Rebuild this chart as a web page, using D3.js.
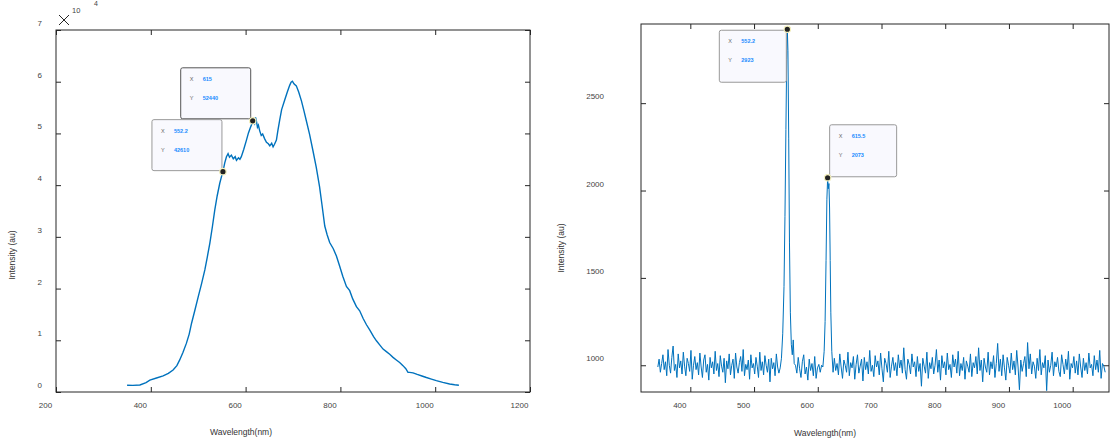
<!DOCTYPE html>
<html>
<head>
<meta charset="utf-8">
<script src="https://cdn.jsdelivr.net/npm/d3@7"></script>
<style>
  body { margin: 0; background: #fff; }
  svg { display: block; font-family: "Liberation Sans", Arial, sans-serif; }
  .tick text { fill: #444; font-size: 8px; }
  .tick line { stroke: #262626; }
</style>
</head>
<body>
<div id="container"></div>
<script>
/* CONSTANTS AND GLOBALS */
const width = 1112, height = 446;
const lineColor = "#0072BD";

/* DATA */
// left panel: broad photoluminescence band
const plWavelength = [350, 362, 377, 390, 398, 412, 426, 437, 447, 455, 461, 468, 475, 481, 486, 493, 500, 507, 514, 519,
  524.5, 530, 535, 540, 545.5, 549, 552.2, 556, 559.6, 563, 566, 570, 574, 578, 580.7, 585, 588, 591, 596, 601.8,
  606, 610, 613, 615.8, 619, 621, 623, 625, 627, 629.8, 633, 636, 640, 644, 648, 651, 655, 658, 661, 665,
  668, 672, 676, 682.5, 688, 693, 696, 698.8, 702, 707, 712, 717.8, 723, 728, 735, 742, 749, 756, 761, 767,
  772, 777.4, 785, 791.6, 798.5, 805, 812.7, 819.6, 826, 833.8, 840.7, 848, 855, 861.8, 870, 876, 882.9, 890, 897, 904,
  911, 918, 925, 932, 938, 942.6, 946, 953.2, 962, 972, 981.4, 992, 1002.4, 1016, 1030.5, 1041, 1050];
const plIntensity = [1300, 1280, 1350, 1800, 2300, 2700, 3100, 3600, 4250, 5100, 6200, 7700, 9400, 11200, 13300, 15800, 18400, 20900, 23600, 26000,
  28750, 32000, 35200, 37900, 40360, 41600, 42610, 44300, 45500, 46100, 45400, 45800, 45100, 45500, 44800, 45300, 45000, 45500, 46900, 48700,
  50100, 51100, 51800, 52440, 51900, 53100, 52300, 51200, 51600, 50500, 49600, 49900, 49000, 48300, 48000, 47600, 48100, 47400, 47900, 48700,
  50500, 52600, 54600, 56460, 58000, 59300, 59900, 60100, 59600, 59200, 58000, 56300, 54400, 52500, 49800, 46700, 43500, 39700, 36300, 32100,
  30400, 28900, 27700, 26300, 24300, 22400, 20400, 19600, 18000, 16500, 15700, 14200, 13000, 12000, 10700, 9900, 9100, 8300, 7800, 7300,
  6700, 6200, 5700, 5100, 4500, 3800, 3800, 3700, 3400, 3100, 2800, 2500, 2200, 1850, 1550, 1400, 1300];
const plTips = [{ x: 615, y: 52440 }, { x: 552.2, y: 42610 }];

// right panel: noisy baseline with two sharp lines
const noiseA = [990, 1035, 960, 1010, 1060, 975, 1020, 940, 1090, 1000, 955, 1045, 1110, 970, 1005, 930, 1065, 985, 1025, 950,
  1075, 995, 940, 1040, 1010, 965, 1085, 920, 1000, 1050, 975, 1015, 945, 1070, 990, 930, 1030, 1060, 960, 1005,
  915, 1045, 985, 1020, 950, 1080, 970, 1010, 935, 1055, 995, 960, 1040, 900, 1025, 980, 1065, 945, 1000, 1035,
  925, 1070, 990, 955, 1015, 1050, 965, 1090, 940, 1005, 975, 1030, 920, 1060, 985, 1010, 950, 1045, 995, 930,
  1075, 970, 1020, 945, 1055, 1000, 960, 1035, 905, 1040, 980, 1015, 940, 1065, 990, 955];
const noiseASpan = [349, 539];
const peak1Wavelength = [541, 543, 545, 547, 548.5, 550, 551.2, 552.2, 553.2, 554.4, 555.6, 557, 558.5, 560, 561.5, 563];
const peak1Counts = [985, 1040, 1180, 1450, 1850, 2350, 2750, 2923, 2800, 2300, 1700, 1300, 1120, 1060, 1145, 1010];
const noiseB = [1000, 955, 1045, 980, 930, 1020, 1060, 950, 990, 915, 1035, 970, 1010, 940, 1050, 925, 985, 1005, 960, 1000];
const noiseBSpan = [565, 606];
const peak2Wavelength = [608, 610, 611.5, 613, 614.3, 615.5, 616.5, 617.5, 618.5, 619.5, 620.5, 622, 624];
const peak2Counts = [990, 1080, 1250, 1600, 1950, 2073, 2010, 2040, 1900, 1600, 1300, 1080, 960];
const noiseC = [1040, 970, 1010, 945, 1065, 990, 925, 1030, 1000, 960, 1075, 940, 1015, 985, 1050, 920, 1005, 1060, 955, 995,
  1035, 910, 1045, 975, 1020, 950, 1085, 965, 1000, 935, 1055, 990, 1025, 945, 1070, 980, 905, 1040, 1010, 960,
  1080, 930, 995, 1045, 970, 1015, 940, 1060, 985, 1030, 955, 1100, 975, 920, 1035, 1005, 950, 1065, 990, 1020,
  935, 1050, 965, 1010, 880, 1040, 995, 955, 1075, 925, 1015, 980, 1045, 950, 1000, 1090, 960, 1030, 915, 1055,
  985, 1020, 945, 1070, 975, 1005, 930, 1060, 990, 1035, 955, 1080, 940, 1010, 970, 1045, 920, 1025, 995, 960,
  1065, 935, 1015, 985, 1050, 950, 1100, 970, 1030, 905, 1040, 990, 960, 1075, 945, 1020, 980, 1055, 930, 1010,
  1125, 965, 1035, 940, 1060, 985, 915, 1045, 1000, 955, 1070, 975, 1025, 945, 1085, 990, 860, 1030, 965, 1010,
  1050, 935, 1130, 980, 1065, 950, 1020, 995, 925, 1040, 970, 1090, 945, 1015, 985, 1055, 855, 1030, 960, 1000,
  1075, 940, 1020, 990, 1045, 965, 935, 1060, 1005, 950, 1035, 975, 1080, 920, 1010, 985, 1050, 955, 1025, 945,
  1065, 990, 930, 1040, 970, 1015, 950, 1070, 985, 1005, 940, 1055, 975, 1030, 960, 1085, 925, 1010, 995, 960];
const noiseCSpan = [626, 1051];
const ramanTips = [{ x: 552.2, y: 2923 }, { x: 615.5, y: 2073 }];

// spread a sampled segment evenly over its wavelength span
function segment(values, span) {
  const step = (span[1] - span[0]) / (values.length - 1);
  return values.map((v, i) => ({ x: span[0] + i * step, y: v }));
}
const plData = plWavelength.map((w, i) => ({ x: w, y: plIntensity[i] }));
const ramanData = [].concat(
  segment(noiseA, noiseASpan),
  peak1Wavelength.map((w, i) => ({ x: w, y: peak1Counts[i] })),
  segment(noiseB, noiseBSpan),
  peak2Wavelength.map((w, i) => ({ x: w, y: peak2Counts[i] })),
  segment(noiseC, noiseCSpan)
);

/* SVG */
const svg = d3.select("#container").append("svg")
  .attr("width", width)
  .attr("height", height);

/* SCALES */
const leftX = d3.scaleLinear().domain([200, 1200]).range([56, 530]);
const leftY = d3.scaleLinear().domain([0, 70000]).range([392, 30]);
const rightX = d3.scaleLinear().domain([322.6, 1057]).range([641, 1109]);
const rightY = d3.scaleLinear().domain([847, 2953]).range([392, 24]);

// draws box, inward ticks on all four sides and shifted tick labels
function drawAxes(x, y, xTicks, yTicks, yFormat, yPad) {
  const [x0, x1] = x.range(), [y0, y1] = y.range();

  const gx = svg.append("g").attr("transform", `translate(0,${y0})`)
    .call(d3.axisBottom(x).tickValues(xTicks).tickSizeInner(-5).tickSizeOuter(0).tickPadding(10).tickFormat(d3.format("d")));
  gx.select(".domain").remove();
  gx.selectAll("text").attr("x", -11);

  const gy = svg.append("g").attr("transform", `translate(${x0},0)`)
    .call(d3.axisLeft(y).tickValues(yTicks).tickSizeInner(-5).tickSizeOuter(0).tickPadding(yPad).tickFormat(yFormat));
  gy.select(".domain").remove();
  gy.selectAll("text").attr("y", -7);

  const gt = svg.append("g").attr("transform", `translate(0,${y1})`)
    .call(d3.axisTop(x).tickValues(xTicks).tickSizeInner(-5).tickSizeOuter(0).tickFormat(""));
  gt.select(".domain").remove();

  const gr = svg.append("g").attr("transform", `translate(${x1},0)`)
    .call(d3.axisRight(y).tickValues(yTicks).tickSizeInner(-5).tickSizeOuter(0).tickFormat(""));
  gr.select(".domain").remove();

  svg.append("rect")
    .attr("x", x0).attr("y", y1)
    .attr("width", x1 - x0).attr("height", y0 - y1)
    .attr("fill", "none").attr("stroke", "#262626").attr("stroke-width", 1);
}

drawAxes(leftX, leftY, [200, 400, 600, 800, 1000, 1200], d3.range(0, 70001, 10000), d => d / 10000, 14);
drawAxes(rightX, rightY, [400, 500, 600, 700, 800, 900, 1000], [1000, 1500, 2000, 2500], d3.format("d"), 37);

// x10^4 exponent marker
const expo = svg.append("g").attr("stroke", "#262626").attr("stroke-width", 1);
expo.append("line").attr("x1", 59).attr("y1", 15).attr("x2", 69).attr("y2", 25);
expo.append("line").attr("x1", 69).attr("y1", 15).attr("x2", 59).attr("y2", 25);
svg.append("text").attr("x", 72).attr("y", 13).attr("font-size", 7.5).attr("fill", "#444").text("10");
svg.append("text").attr("x", 94).attr("y", 6).attr("font-size", 7).attr("fill", "#444").text("4");

// axis titles
const titles = [
  { t: "Wavelength(nm)", x: 241, y: 435, r: 0 },
  { t: "Wavelength(nm)", x: 825, y: 436, r: 0 },
  { t: "Intensity (au)", x: 15, y: 255, r: -90 },
  { t: "Intensity (au)", x: 564, y: 248, r: -90 }
];
svg.selectAll("text.title").data(titles).join("text")
  .attr("class", "title")
  .attr("transform", d => `translate(${d.x},${d.y}) rotate(${d.r})`)
  .attr("text-anchor", "middle")
  .attr("font-size", 8.5)
  .attr("fill", "#333")
  .text(d => d.t);

/* LINES */
svg.append("path").datum(plData)
  .attr("d", d3.line().x(d => leftX(d.x)).y(d => leftY(d.y)))
  .attr("fill", "none").attr("stroke", lineColor).attr("stroke-width", 1.4);

svg.append("path").datum(ramanData)
  .attr("d", d3.line().x(d => rightX(d.x)).y(d => rightY(d.y)))
  .attr("fill", "none").attr("stroke", lineColor).attr("stroke-width", 1);

/* DATATIPS */
// placement: box corner relative to marker
function datatip(d, xs, ys, place, dark) {
  const mx = xs(d.x), my = ys(d.y);
  const w = place.w, h = place.h;
  const bx = place.side === "left" ? mx - w - place.dx : mx + place.dx;
  const by = place.vert === "up" ? my - h - place.dy : my + place.dy;
  const g = svg.append("g");
  g.append("rect").attr("x", bx).attr("y", by).attr("width", w).attr("height", h)
    .attr("rx", 2).attr("fill", "#f9f9fe")
    .attr("stroke", dark ? "#555" : "#999").attr("stroke-width", 1);
  const rows = [["X", d.x], ["Y", d.y]];
  rows.forEach((r, i) => {
    g.append("text").attr("x", bx + 9).attr("y", by + 13 + i * 19)
      .attr("font-size", 5.5).attr("fill", "#666").text(r[0]);
    g.append("text").attr("x", bx + 22).attr("y", by + 13 + i * 19)
      .attr("font-size", 5.5).attr("font-weight", "bold").attr("fill", "#1a8cff").text(r[1]);
  });
  g.append("circle").attr("cx", mx).attr("cy", my).attr("r", 3.2)
    .attr("fill", "#222").attr("stroke", "#f6f2c0").attr("stroke-width", 1.2);
}

datatip(plTips[0], leftX, leftY, { side: "left", vert: "up", w: 70, h: 51, dx: 2, dy: 2 }, true);
datatip(plTips[1], leftX, leftY, { side: "left", vert: "up", w: 70, h: 51, dx: 1, dy: 1 }, false);
datatip(ramanTips[0], rightX, rightY, { side: "left", vert: "down", w: 67, h: 52, dx: 1, dy: 1 }, false);
datatip(ramanTips[1], rightX, rightY, { side: "right", vert: "up", w: 67, h: 52, dx: 2, dy: 1 }, false);
</script>
</body>
</html>
